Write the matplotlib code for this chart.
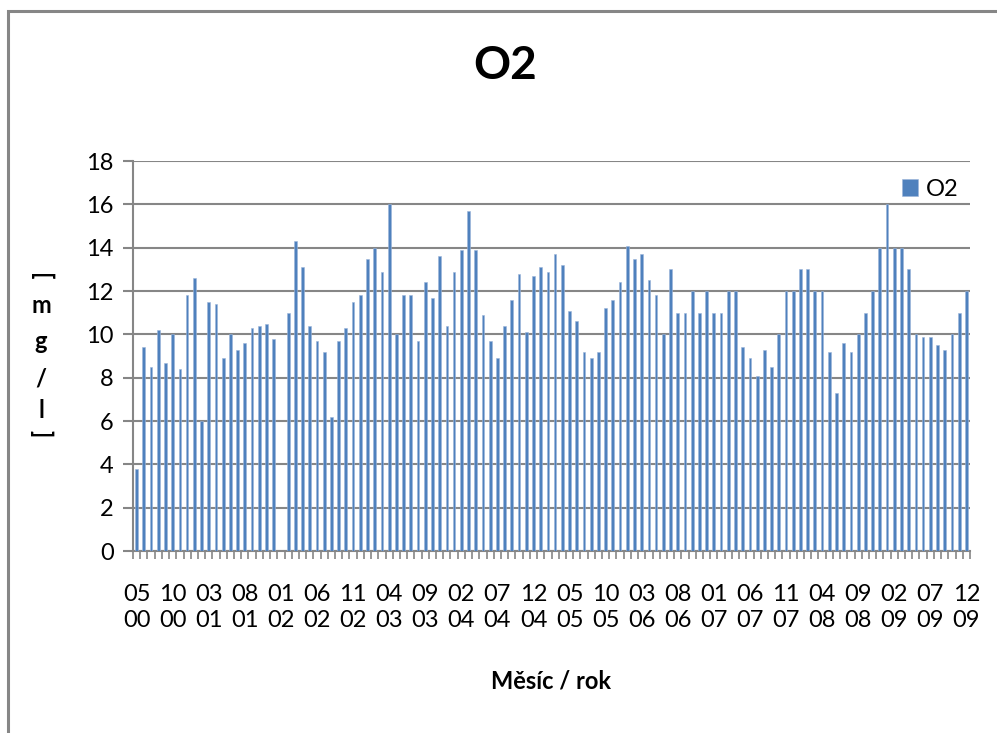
import numpy as np
import matplotlib.pyplot as plt
from matplotlib.patches import Rectangle

plt.rcParams['font.family'] = ['Lato', 'DejaVu Sans']

# měsíční hodnoty O2 [mg/l], 05/2000 - 12/2009 (None = chybí měření)
o2 = [3.8, 9.4, 8.5, 10.2, 8.7, 10.0, 8.4, 11.8,           # 2000
      12.6, 6.0, 11.5, 11.4, 8.9, 10.0, 9.3, 9.6, 10.3, 10.4, 10.5, 9.8,   # 2001
      None, 11.0, 14.3, 13.1, 10.4, 9.7, 9.2, 6.2, 9.7, 10.3, 11.5, 11.8,  # 2002
      13.5, 14.0, 12.9, 16.0, 10.0, 11.8, 11.8, 9.7, 12.4, 11.7, 13.6, 10.4,  # 2003
      12.9, 13.9, 15.7, 13.9, 10.9, 9.7, 8.9, 10.4, 11.6, 12.8, 10.1, 12.7,  # 2004
      13.1, 12.9, 13.7, 13.2, 11.1, 10.6, 9.2, 8.9, 9.2, 11.2, 11.6, 12.4,   # 2005
      14.1, 13.5, 13.7, 12.5, 11.8, 10.0, 13.0, 11.0, 11.0, 12.0, 11.0, 12.0,  # 2006
      11.0, 11.0, 12.0, 12.0, 9.4, 8.9, 8.1, 9.3, 8.5, 10.0, 12.0, 12.0,     # 2007
      13.0, 13.0, 12.0, 12.0, 9.2, 7.3, 9.6, 9.2, 10.0, 11.0, 12.0, 14.0,    # 2008
      16.0, 14.0, 14.0, 13.0, 10.0, 9.9, 9.9, 9.5, 9.3, 10.0, 11.0, 12.0]    # 2009

tick_labels = ['05\n00', '10\n00', '03\n01', '08\n01', '01\n02', '06\n02',
               '11\n02', '04\n03', '09\n03', '02\n04', '07\n04', '12\n04',
               '05\n05', '10\n05', '03\n06', '08\n06', '01\n07', '06\n07',
               '11\n07', '04\n08', '09\n08', '02\n09', '07\n09', '12\n09']

vals = np.array([np.nan if v is None else v for v in o2])
x = np.arange(len(vals))
ok = ~np.isnan(vals)

grey = '#868686'
blue = '#4F81BD'

fig = plt.figure(figsize=(9.97, 7.33), dpi=100)
ax = fig.add_axes([133/997, 182/733, 837/997, 390/733])

ax.bar(x[ok], vals[ok], width=0.38, color=blue, edgecolor='#9DB6DA',
       linewidth=0.4, label='O2', zorder=3)

ax.set_xlim(-0.5, len(vals) - 0.5)
ax.set_ylim(0, 18)
ax.set_yticks(np.arange(0, 19, 2))
ax.yaxis.grid(True, color=grey, linewidth=1.5, zorder=0)
ax.tick_params(axis='y', length=7, width=1.5, color=grey, labelsize=17, pad=7)

ax.set_xticks(x[::5])
ax.set_xticklabels(tick_labels, fontsize=17, linespacing=1.3)
ax.set_xticks(np.arange(-0.5, len(vals)), minor=True)
ax.tick_params(axis='x', which='major', length=0, pad=24)
ax.tick_params(axis='x', which='minor', length=6, width=1.2, color=grey)

for side in ['top', 'right']:
    ax.spines[side].set_visible(False)
for side in ['left', 'bottom']:
    ax.spines[side].set_color(grey)
    ax.spines[side].set_linewidth(1.5)

fig.text(505/997, 1 - 66/733, 'O2', ha='center', va='center',
         fontsize=33, fontweight='bold')
fig.text(551/997, 1 - 681/733, 'Měsíc / rok', ha='center', va='center',
         fontsize=17, fontweight='bold')

# popisek osy y psaný svisle po znacích
ylab = [('[', -90), ('m', 0), ('g', 0), ('/', 0), ('l', 0), (']', -90)]
ys = [277, 305, 341, 379, 411, 434]
for (ch, rot), yy in zip(ylab, ys):
    fig.text(41/997, 1 - yy/733, ch, ha='center', va='center',
             fontsize=17, fontweight='bold', rotation=rot)

ax.legend(loc='upper right', bbox_to_anchor=(1.0, 0.985), frameon=False,
          fontsize=17, handlelength=0.7, handleheight=0.7,
          handletextpad=0.3, borderaxespad=0.1)

# rámeček grafu
fig.patches.append(Rectangle((8/997, -0.1), 1.2, 1 - 11/733 + 0.1,
                             transform=fig.transFigure, fill=False,
                             edgecolor=grey, linewidth=2.2))

fig.savefig('out.png', dpi=100)
